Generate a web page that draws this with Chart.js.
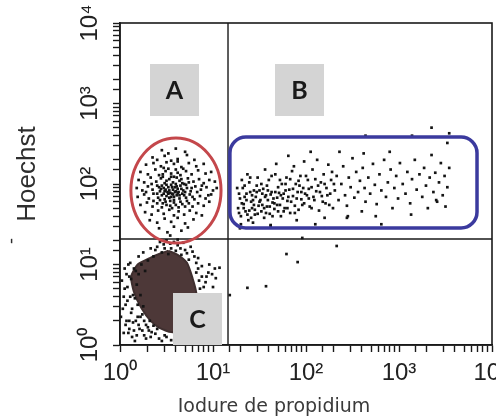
<!DOCTYPE html>
<html>
<head>
<meta charset="utf-8">
<script src="https://cdn.jsdelivr.net/npm/chart.js@4.4.1/dist/chart.umd.min.js"></script>
<style>
  html, body { margin: 0; padding: 0; background: #fff; }
  #wrap { width: 496px; height: 417px; }
</style>
</head>
<body>
<div id="wrap"><canvas id="facsChart" width="496" height="417"></canvas></div>
<script>
// Values, as log10 of the channel (decades)
// [propidium iodide, Hoechst]
const popA = [
  [0.45,2.42],[0.60,2.44],[0.70,2.40],[0.52,2.38],
  [0.35,2.33],[0.48,2.35],[0.62,2.31],[0.72,2.36],[0.80,2.30],[0.40,2.30],[0.55,2.29],
  [0.28,2.24],[0.36,2.26],[0.44,2.22],[0.50,2.27],[0.58,2.25],[0.66,2.21],[0.74,2.26],[0.82,2.22],[0.90,2.25],[0.62,2.28],[0.47,2.20],
  [0.22,2.15],[0.30,2.12],[0.38,2.18],[0.42,2.11],[0.49,2.16],[0.55,2.13],[0.60,2.18],[0.65,2.11],[0.71,2.16],[0.77,2.12],[0.84,2.17],[0.92,2.13],[0.98,2.15],[0.52,2.19],[0.68,2.19],
  [0.20,2.05],[0.26,2.02],[0.33,2.08],[0.39,2.03],[0.44,2.07],[0.48,2.01],[0.53,2.06],[0.57,2.02],[0.61,2.08],[0.64,2.04],[0.69,2.00],[0.73,2.07],[0.79,2.03],[0.85,2.06],[0.90,2.01],[0.96,2.05],[1.02,2.03],[0.46,2.09],[0.58,2.09],[0.66,2.06],
  [0.18,1.95],[0.24,1.92],[0.30,1.97],[0.35,1.93],[0.40,1.98],[0.43,1.91],[0.47,1.95],[0.50,1.99],[0.53,1.92],[0.56,1.96],[0.59,1.90],[0.62,1.94],[0.65,1.98],[0.68,1.92],[0.72,1.95],[0.76,1.91],[0.81,1.97],[0.87,1.93],[0.93,1.96],[1.00,1.92],[1.04,1.95],[0.55,1.99],[0.61,1.97],[0.45,1.98],
  [0.19,1.84],[0.26,1.87],[0.31,1.82],[0.36,1.88],[0.41,1.83],[0.45,1.86],[0.48,1.81],[0.52,1.88],[0.55,1.84],[0.58,1.80],[0.61,1.86],[0.64,1.82],[0.67,1.88],[0.71,1.83],[0.75,1.87],[0.80,1.81],[0.86,1.85],[0.92,1.82],[0.98,1.87],[0.50,1.85],[0.62,1.89],[0.57,1.87],
  [0.22,1.74],[0.29,1.77],[0.35,1.72],[0.40,1.76],[0.45,1.71],[0.49,1.78],[0.54,1.73],[0.58,1.77],[0.63,1.71],[0.67,1.75],[0.72,1.79],[0.78,1.72],[0.84,1.76],[0.90,1.73],[0.96,1.78],[0.56,1.70],
  [0.27,1.65],[0.34,1.62],[0.41,1.67],[0.47,1.63],[0.53,1.68],[0.58,1.61],[0.63,1.66],[0.69,1.62],[0.75,1.67],[0.82,1.64],[0.88,1.61],
  [0.32,1.55],[0.40,1.52],[0.48,1.57],[0.55,1.53],[0.62,1.58],[0.70,1.51],[0.79,1.56],
  [0.42,1.45],[0.51,1.40],[0.58,1.47],[0.66,1.42],[0.54,1.36],[0.73,1.46],
  [0.49,1.93],[0.51,1.90],[0.54,1.89],[0.57,1.93],[0.60,1.91],[0.52,1.96],[0.58,1.84],[0.63,1.90],[0.47,1.88],[0.60,2.00],[0.66,1.94],[0.44,1.94],[0.53,1.83],[0.69,1.86],
  [0.43,1.80],[0.46,1.76],[0.50,1.74],[0.54,1.79],[0.60,1.74],[0.65,1.78],[0.70,1.72],[0.74,1.76],[0.48,1.91],[0.56,1.88],
  [0.64,1.86],[0.70,1.90],[0.42,1.96],[0.59,1.96],[0.67,2.01],[0.50,2.04],[0.55,2.09],[0.71,1.99],[0.77,1.95],[0.40,1.88],
  [0.36,1.79],[0.83,1.90],[0.78,1.84],[0.74,2.02],[0.46,2.12],[0.62,2.14],[0.34,2.00],[0.28,1.90],[0.88,1.98],[0.95,1.86]
];

const popB = [
  [1.27,1.70],[1.29,1.82],[1.30,1.60],[1.32,1.95],[1.33,1.75],[1.35,1.66],[1.36,1.88],[1.38,1.55],[1.39,2.02],[1.41,1.78],
  [1.42,1.70],[1.44,1.92],[1.45,1.62],[1.46,1.84],[1.48,2.08],[1.49,1.73],[1.30,1.50],[1.43,1.52],[1.37,2.12],[1.47,1.98],
  [1.51,1.80],[1.52,1.66],[1.54,1.94],[1.55,1.58],[1.57,1.86],[1.58,1.72],[1.60,2.05],[1.61,1.63],[1.63,1.90],[1.64,1.77],
  [1.66,1.69],[1.67,2.12],[1.69,1.83],[1.70,1.96],[1.72,1.74],[1.73,1.60],[1.74,2.00],[1.56,2.18],[1.62,1.48],[1.68,2.25],[1.53,1.88],[1.65,1.82],
  [1.76,1.88],[1.77,1.70],[1.79,2.08],[1.80,1.79],[1.82,1.93],[1.83,1.64],[1.85,2.16],[1.86,1.85],[1.88,1.73],[1.89,2.00],
  [1.91,1.90],[1.92,1.68],[1.94,2.10],[1.95,1.81],[1.97,1.95],[1.98,2.28],[1.81,2.35],[1.90,1.55],[1.87,2.22],[1.96,1.74],
  [2.01,1.86],[2.02,2.05],[2.04,1.72],[2.06,1.96],[2.07,2.18],[2.09,1.80],[2.11,1.91],[2.12,2.30],[2.14,1.67],[2.16,2.02],
  [2.17,1.85],[2.19,2.12],[2.21,1.76],[2.22,1.95],[2.24,2.24],[2.26,1.88],[2.27,2.05],[2.29,1.70],[2.05,2.40],[2.20,1.58],[2.10,1.50],[2.28,2.15],
  [1.28,1.88],[1.31,1.76],[1.34,1.84],[1.37,1.62],[1.40,1.90],[1.43,1.80],[1.45,1.68],[1.50,1.92],[1.53,1.74],[1.57,1.64],
  [1.59,1.80],[1.62,1.87],[1.66,1.76],[1.70,1.66],[1.75,1.82],[1.78,1.92],[1.84,1.78],[1.90,1.82],[1.93,1.98],[1.99,1.88],
  [2.03,1.94],[2.08,1.84],[2.13,1.98],[2.18,1.78],[2.23,1.86],[1.34,1.98],[1.41,1.58],[1.58,1.98],[1.71,1.89],[1.80,1.70],
  [1.26,1.95],[1.28,1.64],[1.31,2.05],[1.33,1.70],[1.36,1.80],[1.39,1.67],[1.40,2.08],[1.42,1.86],[1.44,1.74],[1.47,1.90],
  [1.48,1.63],[1.50,1.78],[1.52,2.00],[1.55,1.70],[1.56,1.84],[1.59,1.92],[1.61,1.72],[1.63,2.10],[1.64,1.60],[1.67,1.90],
  [1.69,1.74],[1.72,2.05],[1.73,1.86],[1.76,1.66],[1.78,2.00],[1.81,1.84],[1.83,2.06],[1.86,1.94],[1.88,1.64],[1.92,2.04],
  [1.95,1.90],[1.98,1.76],[2.00,2.10],[2.03,1.82],[2.06,1.70],[2.10,2.06],[2.15,1.90],[2.20,2.00],[2.25,1.74],[2.30,2.00],
  [2.31,1.92],[2.33,2.10],[2.35,1.80],[2.38,2.00],[2.40,2.22],[2.42,1.86],[2.44,1.73],[2.46,2.08],[2.48,1.96],[2.50,2.32],
  [2.52,1.83],[2.54,2.15],[2.56,1.90],[2.58,2.04],[2.60,1.66],[2.61,2.20],[2.63,1.95],[2.64,1.78],[2.36,2.40],[2.45,1.60],[2.44,1.58],[2.62,2.38],
  [2.67,2.08],[2.69,1.88],[2.72,2.25],[2.74,1.99],[2.76,1.75],[2.79,2.12],[2.81,1.92],[2.84,2.30],[2.86,1.84],[2.88,2.02],
  [2.91,2.18],[2.93,1.70],[2.95,1.95],[2.97,2.10],[2.99,1.82],[3.01,2.26],[2.75,1.60],[2.90,2.40],[2.81,1.50],
  [3.04,2.00],[3.07,1.88],[3.09,2.15],[3.12,1.76],[3.14,2.06],[3.17,2.30],[3.19,1.93],[3.22,2.12],[3.25,1.84],[3.27,2.20],
  [3.29,1.98],[3.31,1.70],[3.33,2.08],[3.35,2.36],[3.13,1.62],
  [3.37,1.90],[3.39,2.14],[3.41,1.78],[3.43,2.02],[3.45,2.26],[3.47,1.86],[3.49,2.10],[3.50,1.72],[3.52,1.96],[3.54,2.20],[3.40,1.80],[3.52,2.51],
  [1.29,1.45],[1.62,1.49],[2.64,2.60],[3.14,2.60],[3.35,2.70],[3.54,2.63]
];

const popC = [
  [0.40,1.22],[0.47,1.25],[0.55,1.20],[0.62,1.24],[0.70,1.18],[0.76,1.22],[0.45,1.15],[0.52,1.13],[0.66,1.12],[0.36,1.10],[0.80,1.10],[0.58,1.28],[0.50,1.30],
  [0.05,0.70],[0.08,0.55],[0.10,0.85],[0.12,0.40],[0.14,0.62],[0.15,0.95],[0.17,0.30],[0.18,0.75],[0.19,0.50],[0.20,0.88],[0.21,0.20],
  [0.22,0.62],[0.23,1.00],[0.24,0.38],[0.03,0.45],[0.06,0.25],[0.09,0.15],[0.13,0.10],[0.16,0.05],[0.26,0.12],[0.28,0.25],
  [0.31,0.18],[0.07,0.88],[0.11,1.02],[0.04,0.60],[0.25,0.48],[0.27,0.92],[0.19,0.35],[0.10,0.30],[0.33,0.10],[0.38,0.14],[0.42,0.08],[0.48,0.12],[0.36,0.24],
  [0.01,0.35],[0.02,0.80],[0.04,0.15],[0.05,0.95],[0.06,0.50],[0.07,0.30],[0.08,0.72],[0.09,1.00],[0.10,0.20],[0.11,0.60],
  [0.12,0.82],[0.13,0.45],[0.14,0.28],[0.15,0.18],[0.16,0.58],[0.17,0.92],[0.18,0.12],[0.20,0.25],[0.22,0.35],[0.24,0.18],
  [0.26,0.30],[0.28,0.08],[0.30,0.22],[0.32,0.30],[0.34,0.16],[0.40,0.20],[0.45,0.05],[0.50,0.10],[0.55,0.06],[0.60,0.10],[0.65,0.08],[0.70,0.12],
  [0.20,1.10],[0.25,1.15],[0.30,1.05],[0.33,1.20],[0.38,1.18],[0.43,1.28],[0.48,1.20],[0.54,1.26],[0.60,1.17],[0.65,1.20],
  [0.72,1.14],[0.78,1.16],[0.74,1.06],[0.84,1.08],[0.62,1.31],[0.68,1.27],
  [0.84,0.95],[0.88,0.85],[0.92,0.78],[0.86,0.70],[0.95,0.90],[1.00,0.72],[0.90,0.62],[0.82,1.02],[0.97,0.60],[1.03,0.83],[1.07,0.96],
  [0.82,0.90],[0.85,0.80],[0.88,0.98],[0.90,0.72],[0.93,0.85],[0.96,1.00],[0.99,0.88],[1.02,0.95],[0.86,0.60],[0.89,0.52],
  [1.18,0.62],[1.37,0.71],[1.57,0.73],[1.79,1.13],[1.91,1.03],[2.33,1.23],[1.96,1.33]
];

// dense (saturated) core of population C, outline
const blobC = [
  [0.52,1.17],[0.62,1.12],[0.72,1.02],[0.78,0.83],[0.82,0.65],[0.83,0.41],[0.70,0.19],[0.55,0.16],[0.43,0.21],
  [0.33,0.30],[0.23,0.46],[0.15,0.66],[0.12,0.85],[0.19,1.00],[0.32,1.08],[0.44,1.14],[0.52,1.17]
];

// quadrant cut-offs and gates (channel values)
const cutX = 14.5;
const cutY = 20.7;
const gateA = { xMin: 1.31, xMax: 12.2, yMin: 18.5, yMax: 373 };
const gateB = { xMin: 15.2, xMax: 6900, yMin: 28.4, yMax: 384 };

const decades = [1, 10, 100, 1000, 10000];
const xTickLabels = ['10⁰', '10¹', '10²', '10³', '10⁴'];
const yTickLabels = ['10⁰', '10¹', '10²', '10³', '10⁴'];

const toPoints = arr => arr.map(p => ({ x: Math.pow(10, p[0]), y: Math.pow(10, p[1]) }));

function decadeLabel(labels) {
  return function (value) {
    for (let i = 0; i < decades.length; i++) {
      if (Math.abs(value - decades[i]) < decades[i] * 1e-6) return labels[i];
    }
    return '';
  };
}

const overlay = {
  id: 'overlay',
  beforeDatasetsDraw(chart) {
    const { ctx, chartArea: a, scales: { x, y } } = chart;
    const gx = x.getPixelForValue(cutX);
    const gy = y.getPixelForValue(cutY);
    ctx.save();
    ctx.strokeStyle = '#1a1a1a';
    ctx.lineWidth = 1.4;
    ctx.beginPath();
    ctx.moveTo(gx, a.top); ctx.lineTo(gx, a.bottom);
    ctx.moveTo(a.left, gy); ctx.lineTo(a.right, gy);
    ctx.stroke();
    ctx.restore();
  },
  afterDatasetsDraw(chart) {
    const { ctx, chartArea: a, scales: { x, y } } = chart;
    ctx.save();
    // frame
    ctx.strokeStyle = '#1a1a1a';
    ctx.lineWidth = 1.6;
    ctx.strokeRect(a.left, a.top, a.right - a.left, a.bottom - a.top);

    // gate A (ellipse)
    const ax1 = x.getPixelForValue(gateA.xMin), ax2 = x.getPixelForValue(gateA.xMax);
    const ay1 = y.getPixelForValue(gateA.yMax), ay2 = y.getPixelForValue(gateA.yMin);
    ctx.strokeStyle = '#c4474b';
    ctx.lineWidth = 3;
    ctx.beginPath();
    ctx.ellipse((ax1 + ax2) / 2, (ay1 + ay2) / 2, (ax2 - ax1) / 2, (ay2 - ay1) / 2, 0, 0, Math.PI * 2);
    ctx.stroke();

    // gate B (rounded rectangle)
    const bx1 = x.getPixelForValue(gateB.xMin), bx2 = x.getPixelForValue(gateB.xMax);
    const by1 = y.getPixelForValue(gateB.yMax), by2 = y.getPixelForValue(gateB.yMin);
    ctx.strokeStyle = '#3b3a9e';
    ctx.lineWidth = 3.5;
    ctx.beginPath();
    ctx.roundRect(bx1, by1, bx2 - bx1, by2 - by1, 16);
    ctx.stroke();

    // population labels
    const boxes = [
      { t: 'A', x: 150, y: 64 },
      { t: 'B', x: 275, y: 64 },
      { t: 'C', x: 173, y: 293 }
    ];
    ctx.font = 'bold 25px Lato, "Open Sans", sans-serif';
    ctx.textAlign = 'center';
    ctx.textBaseline = 'middle';
    boxes.forEach(b => {
      ctx.fillStyle = '#d4d4d4';
      ctx.fillRect(b.x, b.y, 49, 52);
      ctx.fillStyle = '#1a1a1a';
      ctx.fillText(b.t, b.x + 24.5, b.y + 27);
    });

    // axis titles
    ctx.fillStyle = '#2e2e2e';
    ctx.font = '26px "Liberation Sans", Arial, sans-serif';
    ctx.save();
    ctx.translate(28, 174);
    ctx.rotate(-Math.PI / 2);
    ctx.fillText('Hoechst', 0, 0);
    ctx.restore();
    ctx.save();
    ctx.translate(12, 241);
    ctx.rotate(-Math.PI / 2);
    ctx.font = '18px "Liberation Sans", Arial, sans-serif';
    ctx.fillText('-', 0, 0);
    ctx.restore();

    ctx.fillStyle = '#3a3a3a';
    ctx.font = '19px "DejaVu Sans", sans-serif';
    ctx.fillText('Iodure de propidium', 274, 407);
    ctx.restore();
  }
};

const ctx = document.getElementById('facsChart').getContext('2d');
const dotStyle = {
  backgroundColor: '#141414',
  pointStyle: 'rect',
  pointRadius: 1.9,
  borderWidth: 0,
  order: 1
};
const facsChart = new Chart(ctx, {
  type: 'scatter',
  data: {
    datasets: [
      Object.assign({ label: 'A', data: toPoints(popA) }, dotStyle),
      Object.assign({ label: 'B', data: toPoints(popB) }, dotStyle),
      Object.assign({ label: 'C', data: toPoints(popC) }, dotStyle),
      {
        type: 'line',
        label: 'C core',
        data: toPoints(blobC),
        showLine: true,
        fill: 'shape',
        tension: 0.2,
        backgroundColor: '#4d3838',
        borderColor: '#3f2f2f',
        borderWidth: 2,
        pointRadius: 0,
        order: 2
      }
    ]
  },
  options: {
    responsive: false,
    animation: false,
    events: [],
    layout: { padding: { top: 23, right: 4, left: 0, bottom: 0 } },
    plugins: {
      legend: { display: false },
      tooltip: { enabled: false }
    },
    scales: {
      x: {
        type: 'logarithmic',
        min: 1,
        max: 10000,
        grid: { drawOnChartArea: false, drawTicks: true, tickLength: 7, tickColor: '#1a1a1a', tickWidth: 1.4 },
        border: { display: true, color: '#1a1a1a', width: 1.6 },
        ticks: {
          autoSkip: false,
          maxRotation: 0,
          minRotation: 0,
          padding: 7,
          color: '#222',
          font: { family: '"Liberation Sans", Arial, sans-serif', size: 24 },
          callback: decadeLabel(xTickLabels)
        },
        afterFit(scale) {
          scale.height = 72;
          scale.paddingLeft = 0;
          scale.paddingRight = 0;
        }
      },
      y: {
        type: 'logarithmic',
        min: 1,
        max: 10000,
        grid: { drawOnChartArea: false, drawTicks: true, tickLength: 7, tickColor: '#1a1a1a', tickWidth: 1.4 },
        border: { display: true, color: '#1a1a1a', width: 1.6 },
        ticks: {
          autoSkip: false,
          minRotation: 90,
          maxRotation: 90,
          crossAlign: 'center',
          padding: 4,
          color: '#222',
          font: { family: '"Liberation Sans", Arial, sans-serif', size: 24 },
          callback: decadeLabel(yTickLabels)
        },
        afterFit(scale) {
          scale.width = 120;
          scale.paddingTop = 0;
          scale.paddingBottom = 0;
        }
      }
    }
  },
  plugins: [overlay]
});
</script>
</body>
</html>
